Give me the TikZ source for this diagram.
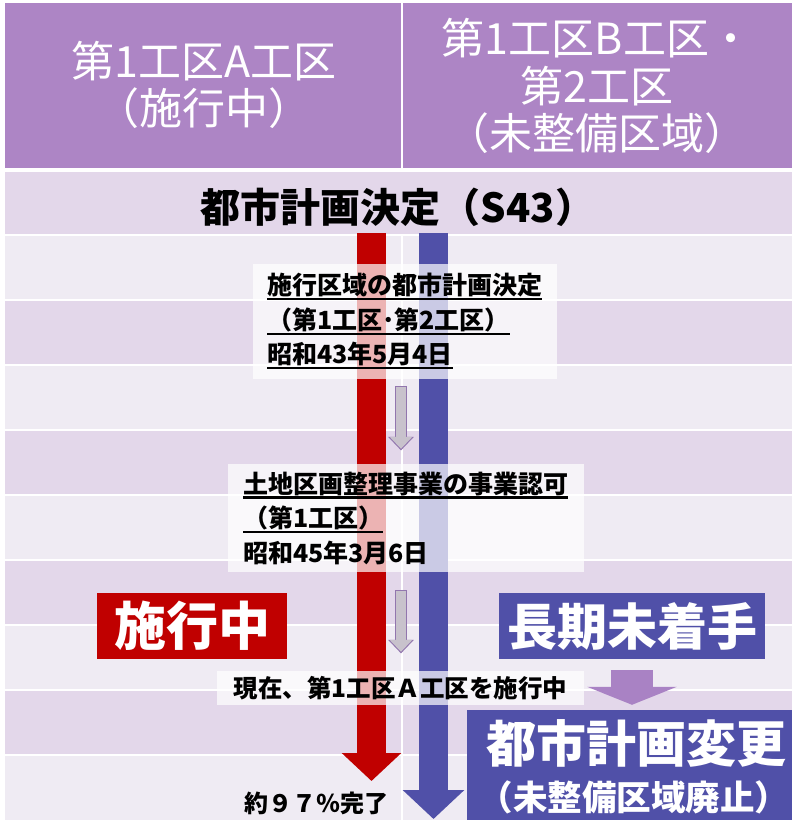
\documentclass[tikz,border=0pt]{standalone}
\usepackage{fontspec}
\setmainfont{Noto Sans CJK JP}
\usetikzlibrary{arrows.meta}
\definecolor{hdpurple}{HTML}{AD85C5}
\definecolor{rowdark}{HTML}{E3D7EA}
\definecolor{rowlight}{HTML}{EFEBF3}
\definecolor{redgo}{HTML}{C00000}
\definecolor{bluewait}{HTML}{5050A8}
\definecolor{stepgray}{HTML}{C8C2CC}
\definecolor{stepedge}{HTML}{9276AE}
\definecolor{chgpurple}{HTML}{A982C4}
\newsavebox\ulsave
\newcommand\ulbox[1]{\sbox\ulsave{#1}\rlap{\rule[-5.5pt]{\wd\ulsave}{2.2pt}}\usebox\ulsave}
\begin{document}
\begin{tikzpicture}[x=1pt,y=-1pt,
    headtext/.style={text=white,align=center,font=\fontsize{43}{47.5}\selectfont},
    memo/.style={fill=white,fill opacity=0.7,inner sep=0pt},
    memotext/.style={anchor=west,align=left,inner sep=0pt,font=\bfseries\fontsize{25}{34.5}\selectfont},
    tag/.style={fill=#1,text=white,inner sep=0pt},
    bigarrow/.style={draw=#1,line width=29pt},
    steparrow/.style={draw=stepgray,line width=10pt,-{Triangle[width=22pt,length=12pt]},
      preaction={draw=stepedge,line width=11.6pt,-{Triangle[width=25pt,length=13.6pt]},
        shorten <=-0.8pt,shorten >=-1.6pt}}]
  \useasboundingbox (0,0) rectangle (792,820);

  % header
  \fill[hdpurple] (5,3) rectangle (401,168);
  \fill[hdpurple] (403,3) rectangle (792,168);
  \node[headtext] (headA) at (204,85) {第1工区A工区\\（施行中）};
  \node[headtext] (headB) at (597,86) {第1工区B工区・\\第2工区\\（未整備区域）};

  % rows
  \fill[rowdark] (5,172) rectangle (792,235);
  \foreach \y in {235,365,...,755}
    {\fill[rowlight] (5,\y) rectangle (792,\y+65);}
  \foreach \y in {300,430,...,690}
    {\fill[rowdark] (5,\y) rectangle (792,\y+65);}
  \foreach \y in {235,300,...,755}
    {\draw[white,line width=1.5pt] (5,\y)--(792,\y);}
  \draw[white,line width=1.5pt] (402,235)--(402,820);

  \node[font=\bfseries\fontsize{40}{44}\selectfont] (plan) at (398,207) {都市計画決定（S43）};

  \coordinate (redtop) at (371.5,233);
  \coordinate (redtip) at (371.5,781);
  \coordinate (bluetop) at (433.5,233);
  \coordinate (bluetip) at (433.5,819);
  \draw[bigarrow=redgo,-{Triangle[width=58pt,length=28pt]}] (redtop)--(redtip);
  \draw[bigarrow=bluewait,-{Triangle[width=60pt,length=29pt]}] (bluetop)--(bluetip);

  \node[memo,minimum width=304pt,minimum height=115pt] (memoA) at (405,321.5) {};
  \node[memotext] (memoAtext) at ([xshift=14pt]memoA.west)
    {\ulbox{施行区域の都市計画決定}\\\ulbox{（第1工区･第2工区）}\\\ulbox{昭和43年5月4日}};
  \node[memo,minimum width=356pt,minimum height=108pt] (memoB) at (406,518) {};
  \node[memotext] (memoBtext) at ([xshift=15pt]memoB.west)
    {\ulbox{土地区画整理事業の事業認可}\\\ulbox{（第1工区）}\\昭和45年3月6日};
  \node[memo,text opacity=1,minimum width=367pt,minimum height=34pt,
    font=\bfseries\fontsize{24.5}{28}\selectfont] (memoC) at (400.5,688) {現在、第1工区Ａ工区を施行中};

  \draw[steparrow] ([xshift=-4pt,yshift=-8pt]memoA.south)--([xshift=-5pt,yshift=15pt]memoB.north);
  \draw[steparrow] ([xshift=-5pt,yshift=-19pt]memoB.south)--([xshift=0.5pt,yshift=19pt]memoC.north);

  \node[tag=redgo,minimum width=190pt,minimum height=66pt,
    font=\bfseries\fontsize{52}{52}\selectfont] (going) at (192,626) {施行中};
  \node[tag=bluewait,minimum width=266pt,minimum height=66pt,
    font=\bfseries\fontsize{50}{50}\selectfont] (waiting) at (632,626) {長期未着手};
  \node[tag=bluewait,minimum width=325pt,minimum height=110pt] (change) at (629.5,765) {};
  \node[text=white,font=\bfseries\fontsize{50}{50}\selectfont] (changeT) at (636,743) {都市計画変更};
  \node[text=white,inner sep=0pt,font=\bfseries\fontsize{34.5}{34.5}\selectfont] (changeS) at (634,797) {（未整備区域廃止）};

  \draw[draw=chgpurple,line width=42pt,-{Triangle[width=89pt,length=18pt]}]
    ([yshift=-11pt]waiting.south)--([yshift=5pt]waiting.south |- change.north);

  \node[font=\bfseries\fontsize{24}{24}\selectfont] (done) at (316,803) {約９７％完了};
\end{tikzpicture}
\end{document}
